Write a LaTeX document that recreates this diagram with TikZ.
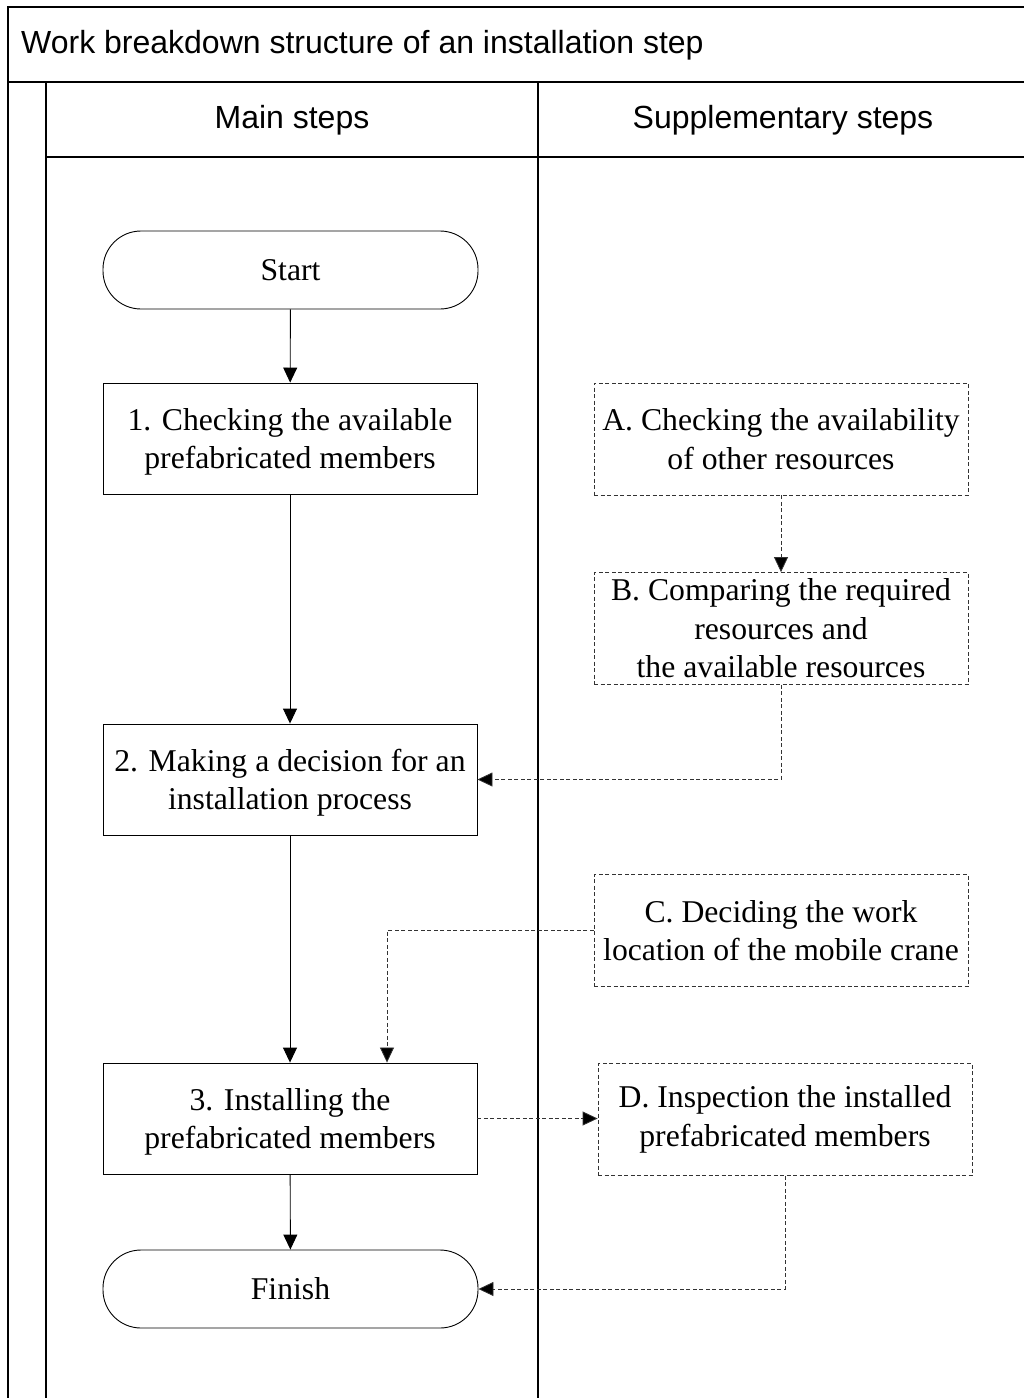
\documentclass[tikz,border=0pt]{standalone}
\usepackage{fontspec}
\setmainfont{Liberation Serif}
\newfontfamily\hdrfont{Liberation Sans}
\usetikzlibrary{arrows.meta}

\newcommand{\boxfont}{\fontsize{31.7}{38.5}\selectfont}
\newcommand{\headfont}{\hdrfont\fontsize{32}{38}\selectfont}

\tikzset{
  frame/.style={line width=2.2pt, draw=black},
  mainbox/.style={draw, line width=0.9pt, minimum width=374pt, minimum height=111pt,
    align=center, font=\boxfont, inner sep=0pt, text depth=0pt},
  terminal/.style={draw, line width=0.9pt, minimum width=375pt, minimum height=78pt,
    rounded corners=38pt, align=center, font=\boxfont, inner sep=0pt},
  suppbox/.style={draw=black!80, line width=0.8pt, dash pattern=on 4pt off 2.5pt,
    minimum width=374pt, minimum height=112pt, align=center, font=\boxfont, inner sep=0pt},
  flow/.style={-{Triangle[length=15pt,width=14pt]}, line width=0.9pt},
  dflow/.style={-{Triangle[length=15pt,width=14pt,fill=black]}, draw=black!80,
    line width=0.8pt, dash pattern=on 4pt off 2.5pt},
}

\begin{document}
\begin{tikzpicture}[x=1pt,y=-1pt]
\useasboundingbox (0,0) rectangle (1024,1398);

% pool and lane frame
\draw[frame] (8,1402) -- (8,7) -- (1030,7);
\draw[frame] (8,82) -- (1030,82);
\draw[frame] (46,82) -- (46,1402);
\draw[frame] (46,157) -- (1030,157);
\draw[frame] (538,82) -- (538,1402);

\node[anchor=west, font=\headfont, inner sep=0pt] (title) at (21,45)
  {Work breakdown structure of an installation step};
\node[font=\headfont, inner sep=0pt] (hmain) at (292,120) {Main steps};
\node[font=\headfont, inner sep=0pt] (hsupp) at (783,120) {Supplementary steps};

% main steps
\node[terminal] (start) at (290.5,270) {Start};
\node[mainbox] (s1) at (290,438.5) {1. Checking the available\\prefabricated members};
\node[mainbox] (s2) at (290,779.5) {2. Making a decision for an\\installation process};
\node[mainbox] (s3) at (290,1118.5) {3. Installing the\\prefabricated members};
\node[terminal] (fin) at (290.5,1289) {Finish};

% supplementary steps
\node[suppbox] (A) at (781,439) {A. Checking the availability\\of other resources};
\node[suppbox] (B) at (781,628.5) {B. Comparing the required\\resources and\\the available resources};
\node[suppbox] (C) at (781,930.5) {C. Deciding the work\\location of the mobile crane};
\node[suppbox] (D) at (785,1119.5) {D. Inspection the installed\\prefabricated members};

\coordinate (cdrop) at (387,930);

% main flow
\draw[flow] (start) -- (s1);
\draw[flow] (s1) -- (s2);
\draw[flow] (s2) -- (s3);
\draw[flow] (s3) -- (fin);

% supplementary links
\draw[dflow] (A) -- (B);
\draw[dflow] (B.south) |- (s2.east);
\draw[dflow] (C.west) -| (cdrop |- s3.north);
\draw[dflow] (s3.east) -- (s3.east -| D.west);
\draw[dflow] (D.south) |- (fin.east);
\end{tikzpicture}
\end{document}
